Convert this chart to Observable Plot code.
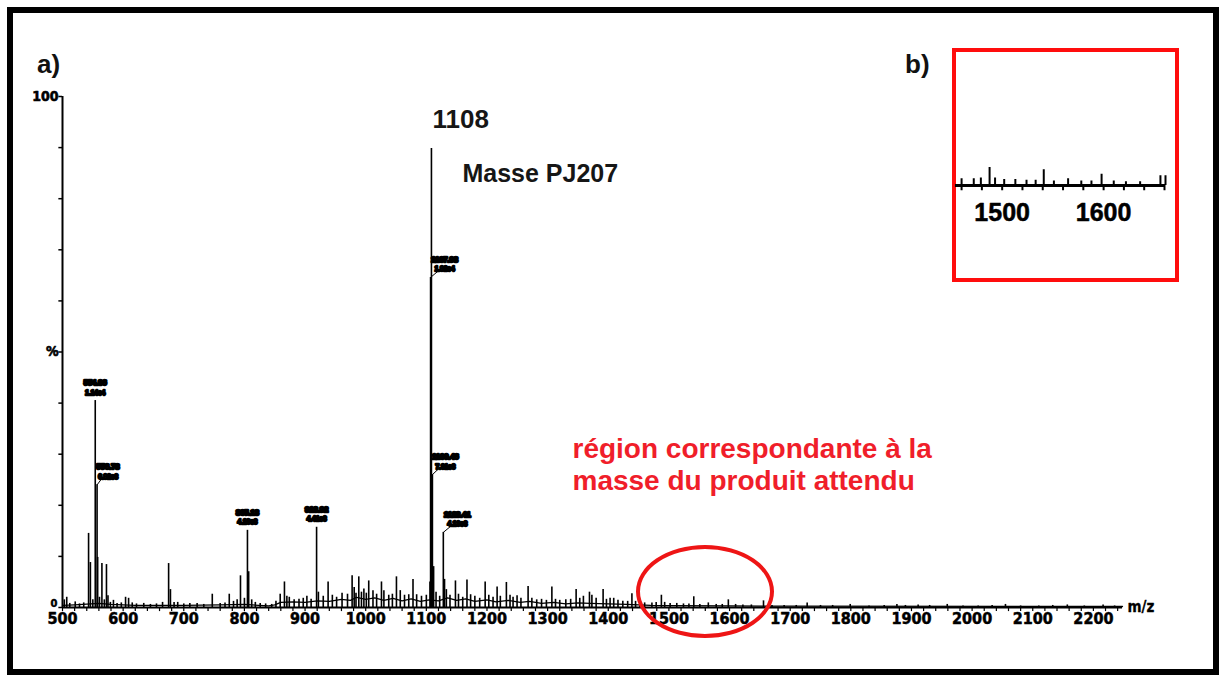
<!DOCTYPE html>
<html>
<head>
<meta charset="utf-8">
<script src="https://cdn.jsdelivr.net/npm/d3@7"></script>
<script src="https://cdn.jsdelivr.net/npm/@observablehq/plot@0.6"></script>
<style>
  body { margin: 0; background: #fff; }
  #page { position: relative; width: 1226px; height: 682px; background: #fff; overflow: hidden; font-family: "Liberation Sans", Arial, sans-serif; }
  #frame { position: absolute; left: 7px; top: 7px; width: 1212px; height: 668px; border: 6px solid #000; box-sizing: border-box; }
  .abs { position: absolute; }
  .lab { position: absolute; font-weight: bold; font-size: 26px; line-height: 1; color: #111; }
  #ellipse { position: absolute; left: 636px; top: 545px; width: 138px; height: 93px; border: 4px solid #ee1515; border-radius: 50%; box-sizing: border-box; }
  #inset { position: absolute; left: 952px; top: 48px; width: 227px; height: 234px; border: 4px solid #ff0d0d; box-sizing: border-box; background: #fff; }
  #insetPlot { position: absolute; left: 952px; top: 48px; }
</style>
</head>
<body>
<div id="page">
  <div id="frame"></div>
  <div id="main" class="abs" style="left:0;top:0"></div>
  <div id="ellipse"></div>
  <div id="inset"></div>
  <div id="insetPlot"></div>
  <div class="lab" style="left:37px;top:51px">a)</div>
  <div class="lab" style="left:905px;top:51px">b)</div>
</div>
<script>
// ---- data (m/z, relative intensity %) ----
const peaks = [
  [503,1.5],[507,2.0],[512,0.8],[521,1.1],[528,0.7],[535,0.9],[543,14.5],[546,8.8],[550,1.5],
  [554,40.5],[557,24],[558,9.8],[561,2.0],[565,8.6],[569,1.5],[572.5,8.4],[575,2.3],[579,1.0],
  [584,1.4],[590,0.8],[597,0.9],[604,2.0],[609,1.8],[615,0.9],[622,0.7],[634,0.8],[645,0.6],
  [655,0.7],[665,1.0],[675,8.6],[678,3.5],[684,1.0],[690,1.0],[700,0.7],[710,0.8],[722,0.8],
  [733,0.6],[747,2.6],[760,0.8],[768,0.9],[775,2.6],[782,1.2],[788,1.5],[793.5,6.2],[800,1.8],
  [805,15.1],[807,7],[812,1.5],[818,1.0],[826,0.8],[835,0.7],[845,0.6],
  [852,1.2],[859,2.6],[866,5],[870,2.2],[874,2],[882,1.5],[890,1.6],[897,1.8],[903,2.2],[910,1.6],
  [919,15.7],[922,3],[930,2.2],[938,5],[945,2.4],[952,2.0],[961,2.8],[970,2.6],[977.6,6.2],
  [981,3.9],[984,2.8],[988.6,6],[993,3],[997,3.6],[1001,2.8],[1005,5.2],[1012,3.3],[1018,2.6],
  [1026,5],[1030,3.3],[1038,2.4],[1044,2.6],[1050.7,6],[1057,3.3],[1064,2.4],[1071,2.5],
  [1078,5.5],[1084,2.5],[1092,2.2],[1100,2.4],[1106,5],[1107,64.6],[1108.4,89.8],[1110,26],
  [1112,8],[1116,3],[1122,2.2],[1128,14.7],[1130,5.5],[1133,3.5],[1139,2.4],[1148,5.2],
  [1153,2.6],[1160,2],[1167,5.4],[1173,2.5],[1180,2.2],[1188,1.8],[1197,5],[1203,2.4],[1210,2],
  [1216.7,4],[1222,2.2],[1232,4.9],[1238,2.4],[1243,2],[1249.6,2.3],[1256,1.8],[1267.8,4.1],
  [1274,1.8],[1282,1.5],[1290,1.6],[1298,1.4],[1307,4],[1313,1.6],[1320,1.4],[1330,1.5],
  [1338,1.6],[1347,3.5],[1353,1.8],[1359,2.2],[1369,3],[1373,2.4],[1380,1.8],[1391.5,3.5],
  [1397,1.6],[1403,1.8],[1409,1.8],[1416,1.4],[1424,1.2],[1432,1.2],[1439,2.7],[1445,1.2],
  [1452,0.9],[1460,0.9],[1472,0.9],[1479,1],[1487.6,2.4],[1493,1.0],[1502,0.8],[1513,0.8],
  [1524,0.7],[1533,0.7],[1541,2.1],[1551,0.6],[1565,0.9],[1578,0.6],[1588,0.6],[1598,1.5],
  [1610,0.6],[1622,0.5],[1636,0.5],[1656,1.3],[1670,0.4],[1690,0.4],[1710,0.4],[1728,0.9],
  [1750,0.4],[1770,0.4],[1799,0.6],[1830,0.3],[1855,0.4],[1876,0.6],[1890,0.4],[1911,0.5],
  [1930,0.4],[1959,0.6],[1985,0.3],[2010,0.3],[2033,0.4],[2055,0.6],[2080,0.3],[2110,0.3],
  [2133,0.4],[2157,0.5],[2185,0.3],[2216,0.5],[2235,0.3]
];
const baseline = [
  [500,0.4],[520,0.5],[560,0.8],[580,0.6],[620,0.4],[700,0.4],[760,0.5],[800,0.6],[840,0.3],
  [850,0.5],[860,1.0],[880,1.1],[900,1.0],[920,1.3],[940,1.2],[960,1.6],[975,1.4],[985,2.0],
  [1000,1.6],[1015,1.9],[1030,1.4],[1045,1.8],[1060,1.3],[1075,1.7],[1090,1.2],[1105,1.5],
  [1120,1.3],[1135,1.9],[1150,1.4],[1165,1.7],[1180,1.2],[1200,1.5],[1215,1.1],[1235,1.4],
  [1255,1.0],[1270,1.2],[1290,0.8],[1310,1.0],[1330,0.7],[1350,0.9],[1370,0.8],[1400,0.7],
  [1430,0.6],[1450,0.5],[1470,0.4],[1500,0.35],[1600,0.3],[1700,0.25],[2248,0.2]
];
// peak labels: m/z, intensity, two label lines
const peakLabels = [
  [554,40.5,"554.36","1.14e4"],
  [557,24,"556.78","6.82e3"],
  [805,15.1,"805.13","4.26e3"],
  [919,15.7,"918.92","4.41e3"],
  [1107,64.6,"1107.98","1.82e4"],
  [1110,26,"1109.46","7.31e3"],
  [1128,14.7,"1128.41","4.13e3"]
];
const labelShift = [0, 11, 0, 0, 14, 13, 14]; // label offset to the right, in m/z-axis pixels
const xDomain = [500, 2248];
const xMajorTicks = [500,600,700,800,900,1000,1100,1200,1300,1400,1500,1600,1700,1800,1900,2000,2100,2200];
const xMinorTicks = d3.range(500, 2241, 20);
const yTicks = [0,10,20,30,40,50,60,70,80,90,100];
const yTickLabels = [[100,"100"],[50,"%"]];
const yZeroLabel = [[0,"0"]];
const mainPeak = [[1108.4, 89.8, "1108", "Masse PJ207"]];
const regionText = ["région correspondante à la", "masse du produit attendu"];
const regionTextAt = [[1341, 29.35], [1341, 22.9]];
const insetDomain = [1454, 1661];
const insetTicks = [1500, 1600];

// ---- main spectrum ----
const W = 1226, mL = 62, mR = 104;
const pxPerUnit = (W - mL - mR) / (xDomain[1] - xDomain[0]);
const P = peaks.map(([mz, h]) => ({mz, h}));
const B = baseline.map(([mz, h]) => ({mz, h}));
const L = peakLabels.map(([mz, h, a, b], i) => ({mz, h, a, b, lx: mz + labelShift[i] / pxPerUnit, shifted: labelShift[i] > 0}));
const Ls = L.filter(d => d.shifted);
const narrow = "'Liberation Sans Narrow', 'DejaVu Sans Condensed', 'Liberation Sans', sans-serif";

const main = Plot.plot({
  width: W, height: 682,
  marginLeft: mL, marginRight: mR, marginTop: 96, marginBottom: 75,
  x: {domain: xDomain, axis: null},
  y: {domain: [0, 100], axis: null},
  style: {background: "transparent", overflow: "visible", fontFamily: "'Liberation Sans', Arial, sans-serif", color: "#000"},
  marks: [
    Plot.line(B, {x: "mz", y: "h", stroke: "#000", strokeWidth: 1.3}),
    Plot.ruleX(P, {x: "mz", y1: 0, y2: "h", stroke: "#000", strokeWidth: 1.6}),
    // axes
    Plot.ruleY([0], {stroke: "#000", strokeWidth: 2}),
    Plot.ruleX([xDomain[0]], {stroke: "#000", strokeWidth: 2}),
    Plot.ruleX(xMinorTicks, {x: d => d, y1: 0, y2: -0.8, stroke: "#000", strokeWidth: 1.2}),
    Plot.text(xMajorTicks, {x: d => d, y: 0, dy: 11, text: d => String(d), fontFamily: narrow, fontWeight: "bold", fontSize: 16, fill: "#000", stroke: "#000", strokeWidth: 0.5}),
    Plot.text(["m/z"], {x: xDomain[1], y: 0, dx: 5, textAnchor: "start", text: d => d, fontFamily: narrow, fontWeight: "bold", fontSize: 15, fill: "#000", stroke: "#000", strokeWidth: 0.3}),
    Plot.ruleY(yTicks, {y: d => d, x1: 494, x2: 500, stroke: "#000", strokeWidth: 1.5}),
    Plot.text(yTickLabels, {x: xDomain[0], y: d => d[0], text: d => d[1], dx: -4, textAnchor: "end", fontFamily: narrow, fontWeight: "bold", fontSize: 14, fill: "#000", stroke: "#000", strokeWidth: 0.6}),
    Plot.text(yZeroLabel, {x: xDomain[0], y: d => d[0], text: d => d[1], dx: -5, dy: -4, textAnchor: "end", fontFamily: narrow, fontWeight: "bold", fontSize: 11, fill: "#000", stroke: "#000", strokeWidth: 0.5}),
    // connectors from shifted labels to their peaks
    Plot.link(Ls, {x1: "mz", y1: "h", x2: d => d.lx - 6 / pxPerUnit, y2: d => d.h + 1.3, stroke: "#000", strokeWidth: 1}),
    // peak labels (tiny, rendered as dense blocks)
    Plot.text(L, {x: "lx", y: "h", text: "a", dy: -18, fontSize: 7.5, fontWeight: "bold", fill: "#000", stroke: "#000", strokeWidth: 2.6}),
    Plot.text(L, {x: "lx", y: "h", text: "b", dy: -8, fontSize: 6.5, fontWeight: "bold", fill: "#000", stroke: "#000", strokeWidth: 2.4}),
    // main peak annotation
    Plot.text(mainPeak, {x: d => d[0], y: d => d[1], text: d => d[2], dx: 1, dy: -21, textAnchor: "start", lineAnchor: "bottom", fontSize: 26, fontWeight: "bold", fill: "#161616"}),
    Plot.text(mainPeak, {x: d => d[0], y: d => d[1], text: d => d[3], dx: 31, dy: 33, textAnchor: "start", lineAnchor: "bottom", fontSize: 25, fontWeight: "bold", fill: "#161616"}),
    Plot.text(regionText, {x: (d, i) => regionTextAt[i][0], y: (d, i) => regionTextAt[i][1], text: d => d, textAnchor: "start", lineAnchor: "bottom", fontSize: 28, fontWeight: "bold", fill: "#f01e2a"})
  ]
});
document.getElementById("main").appendChild(main);

// ---- inset (zoom of the expected-mass region) ----
const inP = P.filter(d => d.mz >= insetDomain[0] && d.mz <= insetDomain[1]);
const inset = Plot.plot({
  width: 227, height: 234,
  marginLeft: 3, marginRight: 14, marginTop: 37, marginBottom: 97,
  x: {domain: insetDomain, axis: null},
  y: {domain: [0, 13.33], axis: null},
  style: {background: "transparent", overflow: "visible", fontFamily: "'Liberation Sans', Arial, sans-serif"},
  marks: [
    Plot.ruleX(inP, {x: "mz", y1: 0, y2: "h", stroke: "#000", strokeWidth: 2}),
    Plot.ruleY([0], {stroke: "#000", strokeWidth: 3}),
    Plot.ruleX(d3.range(1460, 1661, 20), {x: d => d, y1: 0, y2: -0.7, stroke: "#000", strokeWidth: 2}),
    Plot.ruleX([insetDomain[1]], {y1: 0, y2: 1.3, stroke: "#000", strokeWidth: 2}),
    Plot.text(insetTicks, {x: d => d, y: 0, dy: 27, text: d => String(d), fontSize: 25, fontWeight: "bold", fill: "#000", stroke: "#000", strokeWidth: 0.5})
  ]
});
document.getElementById("insetPlot").appendChild(inset);
</script>
</body>
</html>
